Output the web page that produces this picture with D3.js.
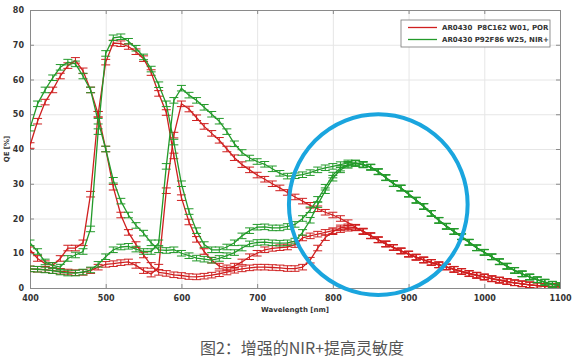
<!DOCTYPE html>
<html lang="zh">
<head>
  <meta charset="UTF-8">
  <title>QE chart</title>
  <script src="https://cdn.jsdelivr.net/npm/d3@7/dist/d3.min.js"></script>
  <style>
    body { margin: 0; background: #fff; }
    svg { display: block; }
  </style>
  <script>
    // wavelengths every 10 nm
    var wl = d3.range(400, 1101, 10);

    // POR sensor (red)
    var porB = [41, 48, 53.5, 57, 61, 64, 65.5, 62.5, 57, 50,
                40, 29, 21, 16, 12.5, 9.5, 6.5, 4.5, 4.2, 3.8,
                3.6, 3.3, 3.2, 3.4, 3.7, 4.1, 4.6, 5.1, 5.5, 5.8,
                6, 6, 5.9, 5.8, 5.6, 5.6, 6, 8, 11.5, 14.5,
                16.2, 17.3, 17.6, 17.4, 16.4, 15.1, 13.9, 12.7, 11.7, 10.7,
                9.8, 8.9, 8.1, 7.4, 6.7, 6.1, 5.4, 4.8, 4.2, 3.7,
                3.2, 2.7, 2.3, 1.9, 1.5, 1.2, 0.9, 0.7, 0.5, 0.4, 0.3];
    var porG = [11, 8.5, 7, 6.5, 8.5, 11.5, 11.5, 13, 27, 50,
                65, 70.5, 70.3, 69.5, 68, 66, 62, 56, 50.5, 38,
                26, 19, 14, 10.5, 8, 6.3, 5.8, 6.3, 7.5, 9,
                10, 11, 11.4, 11.6, 11.8, 12.5, 14.4, 15, 15.5, 16,
                16.5, 16.8, 17.2, 17.3, 16.3, 15, 13.9, 12.7, 11.7, 10.7,
                9.8, 8.9, 8.1, 7.4, 6.7, 6.1, 5.4, 4.8, 4.2, 3.7,
                3.2, 2.7, 2.3, 1.9, 1.5, 1.2, 0.9, 0.7, 0.5, 0.4, 0.3];
    var porR = [5.5, 5.4, 5.3, 5.0, 4.8, 4.6, 4.4, 4.5, 5.0, 6.0,
                6.8, 7.0, 7.3, 7.5, 6.5, 5.0, 4.0, 6.0, 28, 44,
                53, 51.5, 49, 46.5, 44.5, 42.5, 40, 37.5, 35.5, 34,
                32.5, 31.3, 30, 28.8, 27.5, 26.2, 25, 23.8, 22.8, 21.8,
                21, 20, 18.8, 17.5, 16.2, 15, 13.8, 12.6, 11.6, 10.6,
                9.7, 8.8, 8, 7.3, 6.6, 6, 5.3, 4.7, 4.1, 3.6,
                3.1, 2.6, 2.2, 1.8, 1.5, 1.2, 0.9, 0.7, 0.5, 0.4, 0.3];

    // NIR+ sensor (green)
    var nirB = [46, 53, 57, 60.5, 63.5, 65, 64.5, 61, 57, 48,
                40, 31, 25, 21, 18, 15.8, 13, 11, 10.8, 11,
                10, 9.3, 8.6, 8.3, 8, 8.5, 9.3, 10.2, 11.5, 12.7,
                13.1, 13.2, 13, 12.9, 13, 13.5, 16, 19.5, 24, 28,
                31.6, 34, 35.3, 35.8, 35.4, 34.7, 33.4, 31.7, 30, 28.7,
                27, 25.2, 23.4, 21.4, 19.4, 17.7, 16.2, 14.7, 13.1, 11.5,
                10.2, 8.9, 7.5, 6.2, 5, 4, 3.1, 2.3, 1.6, 1, 0.6];
    var nirG = [13, 10.5, 7.5, 6.5, 6, 8.5, 9.5, 10.5, 17, 45,
                67.5, 72, 72.3, 71, 69, 66.5, 63, 58.5, 53, 42,
                30, 22, 16.5, 12.5, 11, 11, 11.8, 13, 15, 16.5,
                17.5, 17.6, 17.3, 17.3, 17.7, 18.3, 20, 22.5, 25.5, 29,
                32.5, 34.5, 35.6, 35.9, 35.5, 34.8, 33.5, 31.8, 30.1, 28.8,
                27.1, 25.3, 23.5, 21.5, 19.5, 17.8, 16.3, 14.8, 13.2, 11.6,
                10.3, 9, 7.6, 6.3, 5.1, 4.1, 3.2, 2.4, 1.7, 1.1, 0.7];
    var nirR = [5.5, 5.4, 5.2, 5, 4.6, 4.3, 4.3, 4.6, 5.2, 6.8,
                9, 11, 11.8, 12, 11.2, 10.5, 10.5, 13, 35, 54,
                57.5, 55.5, 54, 52, 50, 48, 45, 41.5, 39, 37.4,
                36.4, 35.6, 34.3, 33, 32.2, 32.3, 32.6, 33.2, 34, 34.6,
                35, 35.5, 36, 36, 35.6, 34.8, 33.5, 31.8, 30, 28.8,
                27, 25.3, 23.5, 21.5, 19.5, 17.8, 16.3, 14.8, 13.2, 11.6,
                10.3, 9, 7.6, 6.3, 5.1, 4.1, 3.2, 2.4, 1.7, 1.1, 0.7];

    var errQE = 0.8;
    var xTicks = [400, 500, 600, 700, 800, 900, 1000, 1100];
    var yTicks = [0, 10, 20, 30, 40, 50, 60, 70, 80];
    var legendLabels = ['AR0430  P8C162 W01, POR', 'AR0430 P92F86 W25, NIR+'];
    var xTitle = 'Wavelength [nm]';
    var yTitle = 'QE [%]';
    var caption = '图2：增强的NIR+提高灵敏度';
    // highlighted NIR region (center in nm / QE, radii in nm / QE)
    var ring = {nm: 860, qe: 24, rnm: 118, rqe: 26};

    window.addEventListener('load', function () {
      var W = 584, H = 364;
      var L = 30, R = 560, T = 10, B = 288;
      var red = '#cf1f1f', green = '#239a2a';
      var tickFont = 'DejaVu Sans, sans-serif';

      var x = d3.scaleLinear().domain([400, 1100]).range([L, R]);
      var y = d3.scaleLinear().domain([0, 80]).range([B, T]);

      var svg = d3.select('body').append('svg')
        .attr('width', W).attr('height', H);

      // grid
      var grid = svg.append('g').attr('stroke', '#e6e6e6').attr('stroke-width', 1);
      grid.selectAll('.gx').data(xTicks.slice(1, -1)).enter().append('line')
        .attr('x1', function (d) { return x(d) + 0.5; })
        .attr('x2', function (d) { return x(d) + 0.5; })
        .attr('y1', T).attr('y2', B);
      grid.selectAll('.gy').data(yTicks.slice(1, -1)).enter().append('line')
        .attr('y1', function (d) { return y(d) + 0.5; })
        .attr('y2', function (d) { return y(d) + 0.5; })
        .attr('x1', L).attr('x2', R);

      // axes, ticks pointing inward
      svg.append('g').attr('transform', 'translate(0,' + B + ')')
        .call(d3.axisBottom(x).tickValues(xTicks).tickSize(-4).tickPadding(7)
          .tickFormat(d3.format('d')));
      svg.append('g').attr('transform', 'translate(' + L + ',0)')
        .call(d3.axisLeft(y).tickValues(yTicks).tickSize(-4).tickPadding(6));
      svg.append('g').attr('transform', 'translate(0,' + T + ')')
        .call(d3.axisTop(x).tickValues(xTicks).tickSize(-4).tickFormat(''));
      svg.append('g').attr('transform', 'translate(' + R + ',0)')
        .call(d3.axisRight(y).tickValues(yTicks).tickSize(-4).tickFormat(''));
      svg.selectAll('.domain, .tick line').attr('stroke', '#8a8a8a');
      svg.selectAll('.tick text')
        .attr('fill', '#333').attr('font-family', tickFont)
        .attr('font-weight', 'bold').attr('font-size', 8);

      svg.append('text').text(xTitle)
        .attr('x', (L + R) / 2).attr('y', 312)
        .attr('text-anchor', 'middle').attr('fill', '#333')
        .attr('font-family', tickFont).attr('font-weight', 'bold').attr('font-size', 7);
      svg.append('text').text(yTitle)
        .attr('transform', 'translate(9,' + ((T + B) / 2) + ') rotate(-90)')
        .attr('text-anchor', 'middle').attr('fill', '#333')
        .attr('font-family', tickFont).attr('font-weight', 'bold').attr('font-size', 7);

      // curves with error bars
      svg.append('clipPath').attr('id', 'plot')
        .append('rect').attr('x', L).attr('y', T).attr('width', R - L).attr('height', B - T);
      var plot = svg.append('g').attr('clip-path', 'url(#plot)');

      var series = [
        {c: red, v: porB}, {c: red, v: porG}, {c: red, v: porR},
        {c: green, v: nirB}, {c: green, v: nirG}, {c: green, v: nirR}
      ];
      var line = d3.line()
        .x(function (d, i) { return x(wl[i]); })
        .y(function (d) { return y(d); });

      series.forEach(function (s) {
        var g = plot.append('g').attr('stroke', s.c).attr('fill', 'none');
        g.append('path').attr('d', line(s.v)).attr('stroke-width', 1.3);
        var eb = g.selectAll('g.eb').data(s.v).enter().append('g')
          .attr('stroke-width', 1);
        eb.append('line')
          .attr('x1', function (d, i) { return x(wl[i]); })
          .attr('x2', function (d, i) { return x(wl[i]); })
          .attr('y1', function (d) { return y(d - errQE); })
          .attr('y2', function (d) { return y(d + errQE); });
        [-1, 1].forEach(function (sg) {
          eb.append('line')
            .attr('x1', function (d, i) { return x(wl[i]) - 4.5; })
            .attr('x2', function (d, i) { return x(wl[i]) + 4.5; })
            .attr('y1', function (d) { return y(d + sg * errQE); })
            .attr('y2', function (d) { return y(d + sg * errQE); });
        });
      });

      // legend
      var lg = svg.append('g').attr('transform', 'translate(401,20)');
      lg.append('rect').attr('width', 149).attr('height', 27)
        .attr('fill', '#fff').attr('stroke', '#777').attr('stroke-width', 0.8);
      lg.selectAll('line.k').data(legendLabels).enter().append('line')
        .attr('x1', 7).attr('x2', 36)
        .attr('y1', function (d, i) { return 7.5 + i * 12; })
        .attr('y2', function (d, i) { return 7.5 + i * 12; })
        .attr('stroke', function (d, i) { return i ? green : red; })
        .attr('stroke-width', 1.3);
      lg.selectAll('text').data(legendLabels).enter().append('text')
        .text(function (d) { return d; })
        .attr('x', 41).attr('y', function (d, i) { return 10 + i * 12; })
        .attr('fill', '#333').attr('font-family', tickFont)
        .attr('font-weight', 'bold').attr('font-size', 7)
        .style('white-space', 'pre');

      // highlight ring
      svg.append('ellipse')
        .attr('cx', x(ring.nm)).attr('cy', y(ring.qe))
        .attr('rx', x(ring.nm + ring.rnm) - x(ring.nm))
        .attr('ry', y(ring.qe) - y(ring.qe + ring.rqe))
        .attr('fill', 'none').attr('stroke', '#1aa5de').attr('stroke-width', 4);

      // caption
      svg.append('text').text(caption)
        .attr('x', 302).attr('y', 354)
        .attr('text-anchor', 'middle').attr('fill', '#555')
        .attr('font-family', 'Noto Sans CJK SC, sans-serif').attr('font-size', 16);
    }, false);
  </script>
</head>
<body>
</body>
</html>
